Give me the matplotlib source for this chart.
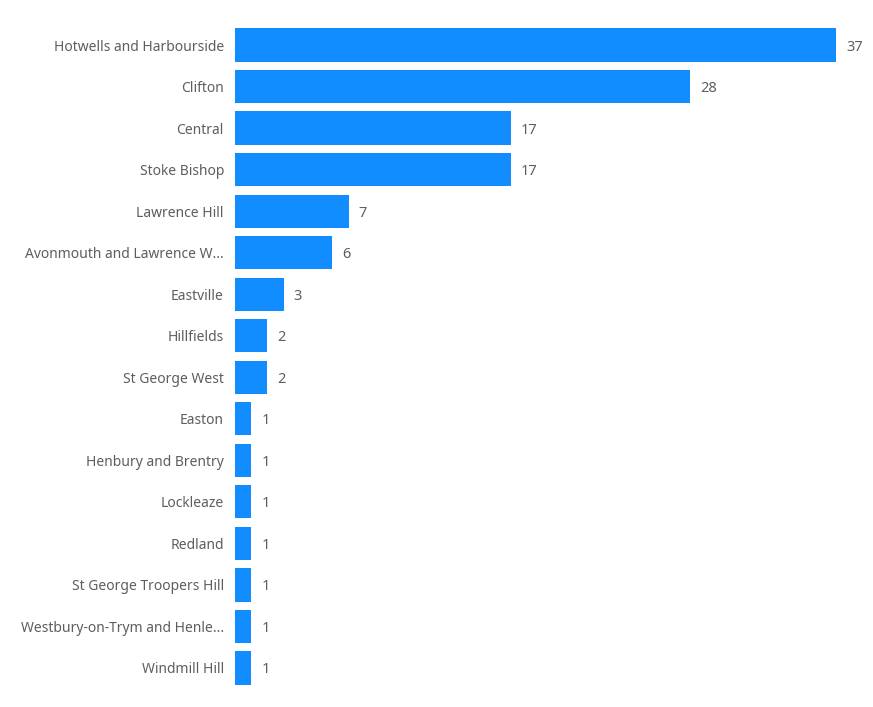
import matplotlib
matplotlib.use("Agg")
import matplotlib.pyplot as plt
from matplotlib.transforms import offset_copy

wards = [
    "Hotwells and Harbourside", "Clifton", "Central", "Stoke Bishop",
    "Lawrence Hill", "Avonmouth and Lawrence W...", "Eastville", "Hillfields",
    "St George West", "Easton", "Henbury and Brentry", "Lockleaze",
    "Redland", "St George Troopers Hill", "Westbury-on-Trym and Henle...",
    "Windmill Hill",
]
counts = [37, 28, 17, 17, 7, 6, 3, 2, 2, 1, 1, 1, 1, 1, 1, 1]

plt.rcParams['font.family'] = ['Noto Sans', 'DejaVu Sans']
text_col = "#605E5C"
bar_col = "#118DFF"

fig = plt.figure(figsize=(8.73, 7.07), dpi=100)
ax = fig.add_axes([235 / 873, 1 - 688.75 / 707, (836 - 235) / 873, (688.75 - 24.25) / 707])

pos = list(range(len(wards)))
ax.barh(pos, counts, height=0.8, color=bar_col)
ax.set_xlim(0, 37)
ax.set_ylim(len(wards) - 0.5, -0.5)

ax.set_yticks(pos)
ax.set_yticklabels(wards, fontsize=10, color=text_col, va='center_baseline')
ax.tick_params(axis='y', length=0, pad=8)
ax.set_xticks([])
for s in ax.spines.values():
    s.set_visible(False)

trans = offset_copy(ax.transData, fig=fig, x=10, y=0, units='dots')
for p, c in zip(pos, counts):
    ax.text(c, p, str(c), transform=trans, va='center_baseline', ha='left',
            fontsize=10.5, color=text_col, clip_on=False)

fig.savefig("out.png", dpi=100)
